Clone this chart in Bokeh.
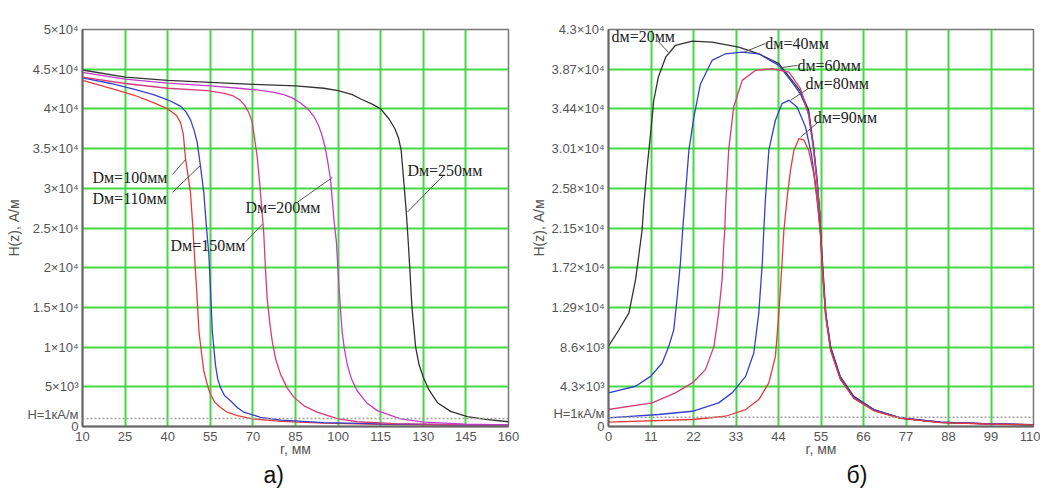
from bokeh.plotting import figure
from bokeh.models import Range1d, FixedTicker, Label, Span, Title
from bokeh.layouts import row
from bokeh.embed import file_html
from bokeh.resources import INLINE

# ---------------- data: panel a) ----------------
a_x_ticks = [10, 25, 40, 55, 70, 85, 100, 115, 130, 145, 160]
a_y_ticks = [0, 5000, 10000, 15000, 20000, 25000, 30000, 35000, 40000, 45000, 50000]
a_y_labels = ["0", "5×10³", "1×10⁴", "1.5×10⁴", "2×10⁴", "2.5×10⁴", "3×10⁴",
              "3.5×10⁴", "4×10⁴", "4.5×10⁴", "5×10⁴"]

a_red_x = [10, 20, 28, 35, 40, 43, 44.5, 45.5, 46.3, 47.2, 48, 48.8, 49.5, 50.2, 51, 52,
           52.7, 54, 55, 56.5, 58.6, 61, 64.5, 70, 80, 95, 115, 140, 160]
a_red_y = [43600, 42600, 41750, 40800, 40000, 39200, 38300, 36800, 33600, 31500, 29500,
           25400, 21100, 17200, 12000, 9000, 7000, 5200, 4100, 3100, 2400, 1800, 1380,
           960, 650, 420, 280, 180, 130]

a_blue_x = [10, 20, 28, 35, 40, 44.5, 46.5, 48, 49.3, 50.4, 51.5, 52.7, 53.6, 54.5, 55.1,
            55.7, 56.8, 57.6, 58.6, 60, 62.1, 64.5, 66.8, 72.7, 80, 95, 115, 140, 160]
a_blue_y = [43900, 43200, 42500, 41800, 41150, 40350, 39600, 38650, 37300, 35750, 32900,
            29500, 25300, 21600, 17000, 12000, 7800, 6000, 4900, 3900, 3250, 2400, 1800,
            1160, 800, 500, 330, 220, 160]

a_crim_x = [10, 25, 40, 54, 60, 63.3, 65.5, 67, 68.5, 69.7, 70.5, 71.5, 72.3, 73, 73.8,
            74.4, 75, 76, 76.8, 78, 79.7, 82, 84.4, 88, 92.6, 99.7, 106.7, 120, 140, 160]
a_crim_y = [44000, 43200, 42600, 42300, 41950, 41600, 41100, 40500, 39600, 38400, 36500,
            34000, 31000, 28000, 24500, 20000, 16200, 12900, 10750, 8500, 6600, 4900,
            3700, 2600, 1800, 1000, 600, 350, 230, 170]

a_mag_x = [10, 25, 40, 55, 65, 72.7, 77, 80.9, 84, 86.8, 89.3, 91.4, 93, 94.4, 95.4, 96.2,
           97.3, 97.9, 98.5, 99.4, 100.2, 100.8, 101.4, 102.2, 103.2, 104.7, 106.7, 110,
           113.8, 122, 130.2, 145, 160]
a_mag_y = [44600, 43750, 43250, 42900, 42600, 42340, 42100, 41800, 41350, 40750, 40000,
           39100, 38000, 36600, 35200, 33660, 31200, 28800, 26160, 23250, 18250, 15000,
           12000, 9800, 7840, 6000, 4500, 3000, 2000, 960, 540, 300, 200]

a_blk_x = [10, 25, 40, 55, 70, 85, 95, 100, 105, 108, 112, 115, 118, 120, 121.3, 122.2,
           123.1, 124, 124.6, 125.2, 126, 127.3, 128.5, 130, 132, 135, 139.6, 145.5, 152, 160]
a_blk_y = [44900, 44000, 43600, 43350, 43100, 42900, 42600, 42300, 41800, 41250, 40600,
           40000, 38700, 37500, 36300, 34800, 31000, 27000, 23800, 20200, 15000, 10000,
           7800, 6200, 4600, 3000, 1900, 1250, 900, 600]

# ---------------- data: panel б) ----------------
b_x_ticks = [0, 11, 22, 33, 44, 55, 66, 77, 88, 99, 110]
b_y_ticks = [0, 4300, 8600, 12900, 17200, 21500, 25800, 30100, 34400, 38700, 43000]
b_y_labels = ["0", "4.3×10³", "8.6×10³", "1.29×10⁴", "1.72×10⁴", "2.15×10⁴", "2.58×10⁴",
              "3.01×10⁴", "3.44×10⁴", "3.87×10⁴", "4.3×10⁴"]

b_20_x = [0, 2.7, 5.3, 7, 7.8, 8.7, 9.1, 10, 10.9, 11.7, 12.9, 14.8, 17.3, 21.7, 26.8, 33.7,
          38.9, 44.1, 47.5, 49.7, 51.8, 53.1, 54, 54.7, 55.3, 56.2, 57.5, 60, 63.5, 68.7,
          75.6, 85.9, 98.9, 110]
b_20_y = [8700, 10480, 12300, 15900, 18400, 21280, 23800, 28100, 31750, 35300, 37850, 40000,
          41270, 41740, 41630, 41090, 40370, 39300, 37500, 36300, 34250, 30280, 26690, 23090,
          17700, 12300, 8650, 5400, 3270, 1840, 940, 470, 290, 200]

b_40_x = [0, 7, 10.9, 13.9, 15.6, 16.9, 17.8, 18.6, 19.2, 19.8, 20.8, 22.1, 23.8, 26.8, 30.3,
          34.6, 38.9, 44.1, 47.5, 49.7, 51.8, 53.1, 54, 54.7, 55.3, 56.2, 57.5, 60, 63.5,
          68.7, 75.6, 85.9, 98.9, 110]
b_40_y = [3640, 4360, 5430, 6880, 8680, 10480, 14080, 17680, 21280, 24500, 29900, 33500,
          37100, 39650, 40370, 40550, 40370, 39110, 37300, 36000, 34000, 30100, 26500, 22900,
          17500, 12100, 8500, 5300, 3200, 1800, 920, 460, 280, 190]

b_60_x = [0, 11.3, 17.3, 21.7, 25.1, 27.3, 28.5, 29.4, 29.8, 30.1, 30.3, 31.1, 32.4, 34.6,
          38, 42.4, 46.7, 49.7, 51.8, 53.1, 54, 54.7, 55.3, 56.2, 57.5, 60, 63.5, 68.7, 75.6,
          85.9, 98.9, 110]
b_60_y = [1840, 2550, 3640, 4720, 6160, 8680, 12280, 15880, 19480, 21280, 23800, 29930,
          34600, 37490, 38570, 38750, 38390, 36600, 33700, 29900, 26300, 22700, 17300, 11900,
          8300, 5200, 3100, 1750, 900, 440, 270, 180]

b_80_x = [0, 13, 21.7, 28.5, 32, 35.5, 37.6, 38.9, 39.8, 40.2, 40.6, 41.5, 43.2, 44.9, 46.7,
          48.8, 51, 52.5, 53.5, 54.3, 55, 55.5, 56.3, 57.5, 60, 63.5, 68.7, 75.6, 85.9, 98.9, 110]
b_80_y = [940, 1300, 1650, 2560, 3640, 5430, 7960, 12280, 17680, 21280, 24530, 29930, 33170,
          34970, 35330, 34600, 32440, 29500, 26500, 23500, 20300, 17200, 12000, 8400, 5200,
          3150, 1780, 910, 450, 280, 180]

b_90_x = [0, 21.7, 30.3, 35.5, 38.9, 41.5, 43.2, 44.1, 44.9, 45.4, 46.3, 47.1, 48, 49.3, 50.6,
          51.8, 53.1, 54, 54.8, 55.4, 56.3, 57.5, 60, 63.5, 68.7, 75.6, 85.9, 98.9, 110]
b_90_y = [470, 760, 1110, 1840, 2920, 4720, 7600, 12280, 17680, 21280, 25000, 27770, 29930,
          31190, 31010, 29930, 27410, 24500, 21000, 17000, 11800, 8200, 5100, 3050, 1700,
          880, 430, 260, 170]

H_LEVEL = 1000
H_TEXT = "H=1кА/м"

# ---------------- styles ----------------
RED = "#e23b3b"
BLUE = "#3440cc"
CRIM = "#d63c78"
MAG = "#c23cc8"
BLK = "#333333"
GRID = "#45d945"
SERIF = "Liberation Serif"
SANS = "Liberation Sans"
FIG_H = 496


def make_fig(width, bl, br, bt, bb, xr, yr, xt, yt, ylabels, h_label_pos, panel_text, panel_off):
    p = figure(width=width, height=FIG_H, output_backend="svg", toolbar_location=None,
               x_range=Range1d(*xr), y_range=Range1d(*yr),
               min_border_left=bl, min_border_right=br, min_border_top=bt,
               min_border_bottom=bb)
    p.xaxis.ticker = FixedTicker(ticks=xt)
    p.yaxis.ticker = FixedTicker(ticks=yt + [h_label_pos])
    p.xgrid.ticker = FixedTicker(ticks=xt)
    p.ygrid.ticker = FixedTicker(ticks=yt)
    overrides = {t: l for t, l in zip(yt, ylabels)}
    overrides[h_label_pos] = H_TEXT
    p.yaxis.major_label_overrides = overrides
    p.xaxis.axis_label = "r, мм"
    p.yaxis.axis_label = "H(z), А/м"
    for ax in (p.xaxis, p.yaxis):
        ax.major_tick_out = 0
        ax.major_tick_in = 0
        ax.minor_tick_out = 0
        ax.minor_tick_in = 0
        ax.axis_line_color = "#666666"
        ax.axis_line_width = 2
        ax.major_label_text_font = SANS
        ax.major_label_text_font_size = "13px"
        ax.major_label_text_color = "#555555"
        ax.axis_label_text_font = SANS
        ax.axis_label_text_font_size = "14px"
        ax.axis_label_text_font_style = "normal"
        ax.axis_label_text_color = "#555555"
    p.xaxis.major_label_standoff = 5
    p.yaxis.major_label_standoff = 4
    p.xaxis.axis_label_standoff = -3
    p.yaxis.axis_label_standoff = 2
    p.grid.grid_line_color = GRID
    p.grid.grid_line_width = 2
    p.outline_line_color = "#777777"
    p.outline_line_width = 1.5
    p.background_fill_color = "white"
    p.border_fill_color = "white"
    p.add_layout(Span(location=H_LEVEL, dimension="width", line_color="#a0a0a0",
                      line_dash="2 2", line_width=1.5))
    p.add_layout(Title(text=panel_text, align="left", offset=panel_off, text_font=SANS,
                       text_font_size="23px", text_font_style="normal",
                       text_color="#111111", standoff=0), "below")
    return p


def note(p, x, y, text):
    p.add_layout(Label(x=x, y=y, text=text, text_align="left", text_baseline="middle",
                       text_font=SERIF, text_font_size="16px", text_color="#222222"))


# ---------------- panel a) ----------------
pa = make_fig(523, 82, 15, 26, 70, (10, 160), (0, 50000), a_x_ticks, a_y_ticks, a_y_labels,
              1500, "а)", 181)
for xs, ys, c in [(a_red_x, a_red_y, RED), (a_blue_x, a_blue_y, BLUE),
                  (a_crim_x, a_crim_y, CRIM), (a_mag_x, a_mag_y, MAG),
                  (a_blk_x, a_blk_y, BLK)]:
    pa.line(xs, ys, line_color=c, line_width=1.3)

a_notes = [(13.5, 31375, "Dм=100мм"), (13.5, 28750, "Dм=110мм"), (41, 22750, "Dм=150мм"),
           (67.4, 27625, "Dм=200мм"), (124.4, 32250, "Dм=250мм")]
for x, y, t in a_notes:
    note(pa, x, y, t)
a_leaders = [(41.7, 31750, 46.3, 33625), (41.7, 29500, 51.5, 32875),
             (67.4, 23250, 73.4, 25500), (85.7, 28250, 98, 31375),
             (137.1, 31625, 124.4, 27000)]
pa.segment(x0=[l[0] for l in a_leaders], y0=[l[1] for l in a_leaders],
           x1=[l[2] for l in a_leaders], y1=[l[3] for l in a_leaders],
           line_color="#555555", line_width=1)

# ---------------- panel б) ----------------
pb = make_fig(517, 85, 7, 29, 69, (0, 110), (0, 43000), b_x_ticks, b_y_ticks, b_y_labels,
              1450, "б)", 238)
for xs, ys, c in [(b_20_x, b_20_y, BLK), (b_40_x, b_40_y, BLUE), (b_60_x, b_60_y, CRIM),
                  (b_80_x, b_80_y, BLUE), (b_90_x, b_90_y, RED)]:
    pb.line(xs, ys, line_color=c, line_width=1.3)

b_notes = [(0.8, 42250, "dм=20мм"), (40.6, 41487, "dм=40мм"), (48.9, 39110, "dм=60мм"),
           (51, 37166, "dм=80мм"), (53.1, 33492, "dм=90мм")]
for x, y, t in b_notes:
    note(pb, x, y, t)
b_leaders = [(12.7, 41800, 15.5, 40515), (40.6, 41487, 34.9, 40515),
             (48.9, 39110, 45, 38894), (51.8, 36626, 47.1, 35330),
             (54.1, 32920, 49.7, 31330)]
pb.segment(x0=[l[0] for l in b_leaders], y0=[l[1] for l in b_leaders],
           x1=[l[2] for l in b_leaders], y1=[l[3] for l in b_leaders],
           line_color="#555555", line_width=1)

layout = row(pa, pb)
open("out.html", "w").write(file_html(layout, INLINE))
